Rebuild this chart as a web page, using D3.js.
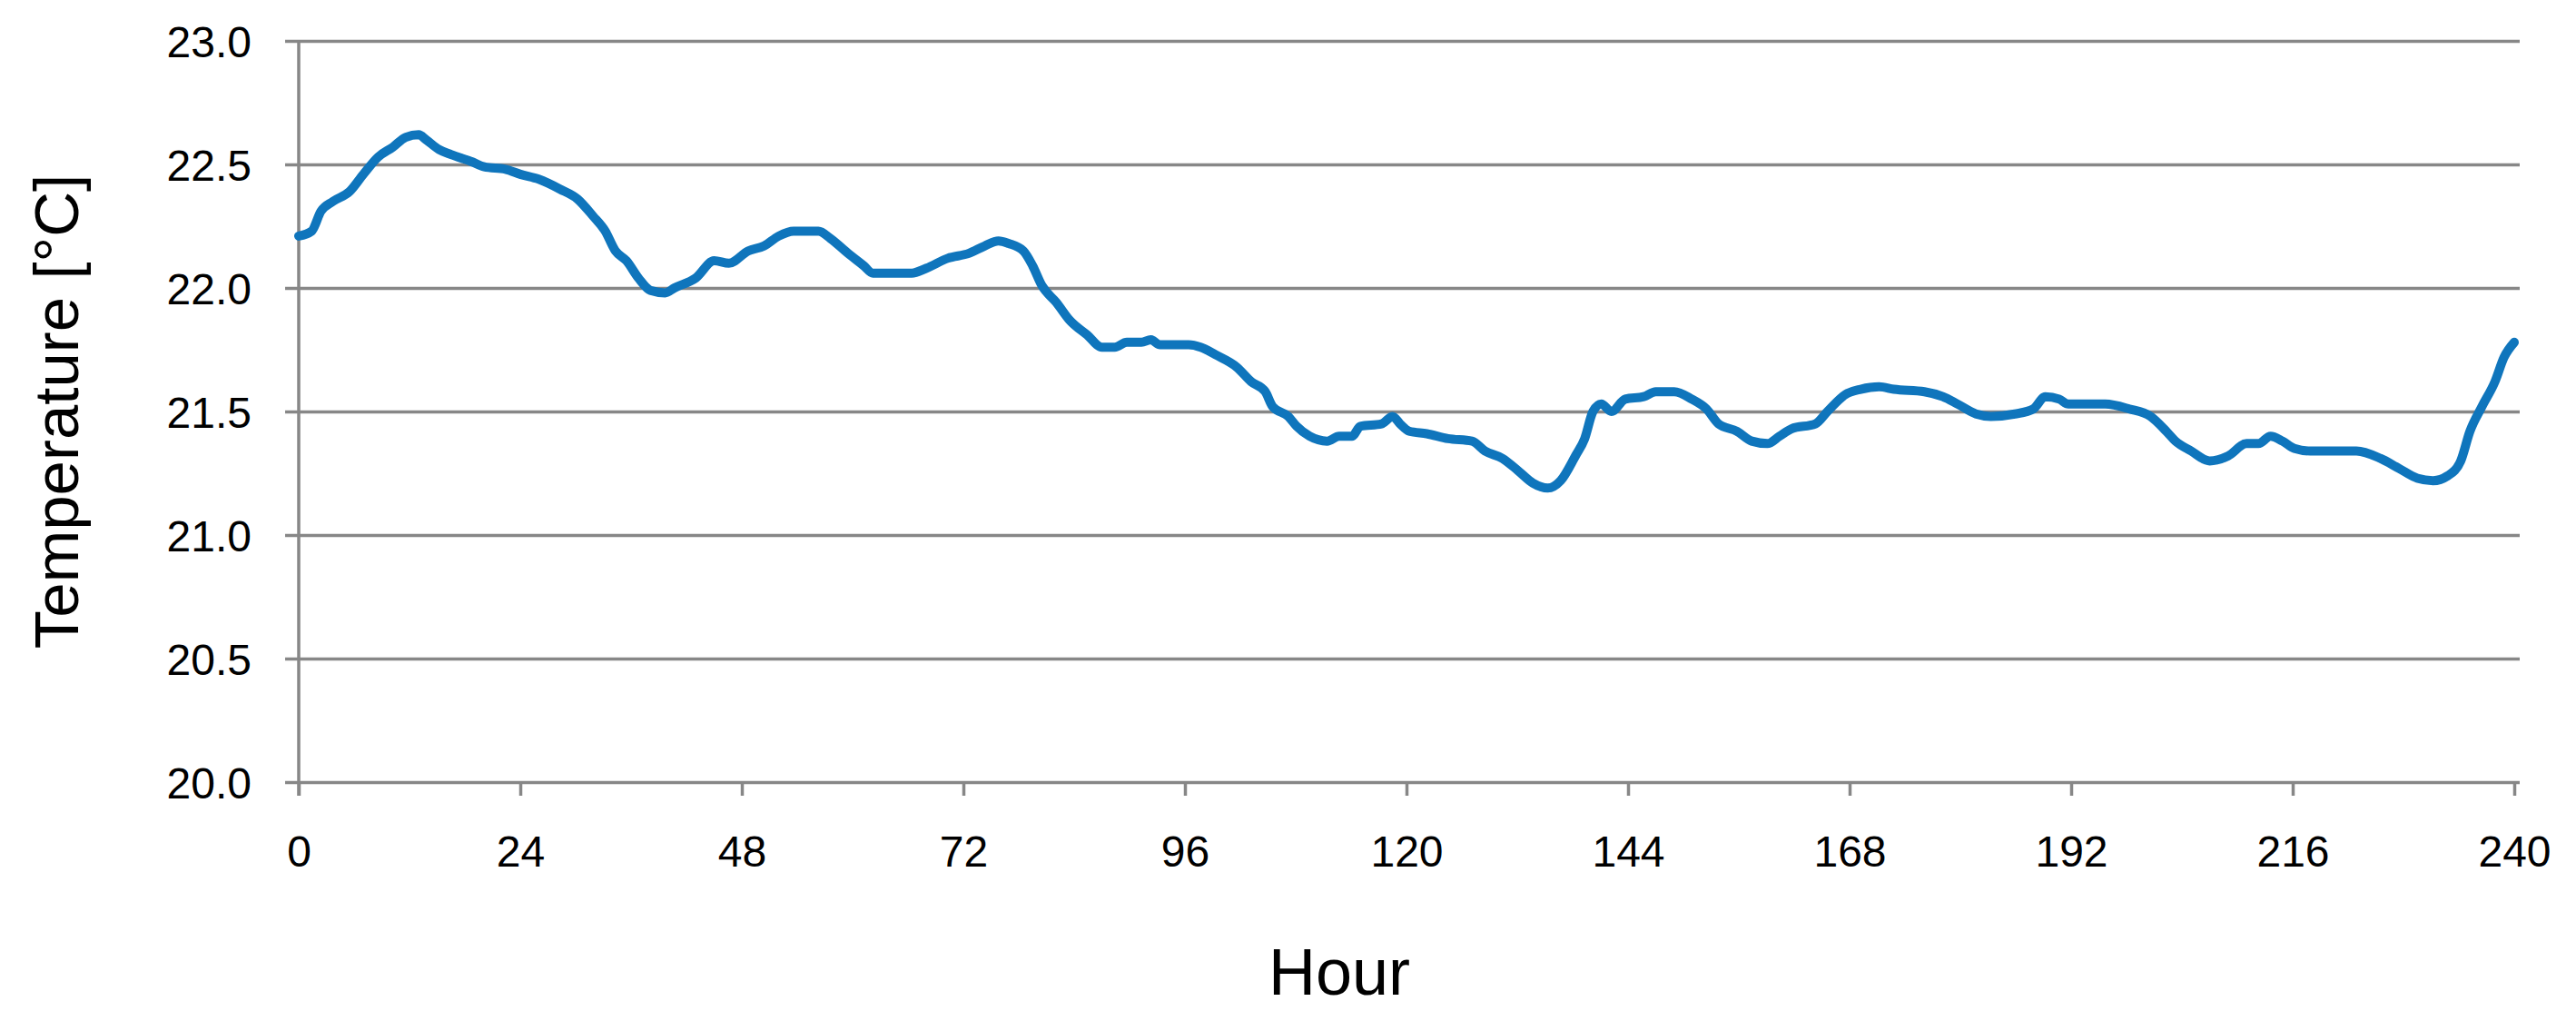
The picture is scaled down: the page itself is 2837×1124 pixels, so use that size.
<!DOCTYPE html>
<html>
<head>
<meta charset="utf-8">
<script src="https://cdn.jsdelivr.net/npm/d3@7"></script>
<style>
  body { margin: 0; background: #fff; }
  text { font-family: Arial, "Liberation Sans", sans-serif; fill: #000; }
</style>
</head>
<body>
<div id="chart"></div>
<script>
// hourly temperature readings
var hours = [0, 1.4, 2.4, 3.7, 5.5, 7.0, 8.6, 10.2, 11.6, 13.0, 13.8, 15.2, 16.5, 18.8, 20.1, 22.4,
    24.0, 26.0, 28.3, 30.2, 31.9, 33.2, 34.3, 35.5, 36.8, 38.1, 39.7, 40.7, 43.0, 45.0, 46.6,
    48.7, 50.4, 52.0, 53.6, 56.3, 57.6, 59.5, 61.2, 62.2, 66.4, 68.0, 70.3, 72.6, 74.3, 75.8,
    76.9, 78.5, 79.5, 80.5, 82.1, 83.5, 85.4, 87.0, 88.4, 89.7, 91.3, 92.3, 93.3, 96.4, 97.7,
    99.3, 101.6, 103.2, 104.7, 105.5, 107.2, 108.1, 109.5, 111.4, 112.7, 114.1, 115.0, 117.3,
    118.5, 119.3, 120.3, 122.2, 124.5, 127.1, 128.5, 130.4, 132.1, 133.7, 135.3, 136.7, 138.3,
    139.3, 140.2, 141.1, 142.2, 143.7, 145.7, 147.0, 149.0, 150.9, 152.5, 153.8, 155.8, 157.4,
    159.1, 160.4, 161.7, 164.3, 165.6, 167.6, 169.2, 171.2, 172.8, 176.1, 178.1, 179.7, 181.7,
    183.3, 185.9, 187.9, 189.2, 190.7, 191.7, 195.7, 198.3, 200.6, 202.3, 203.3, 205.0, 207.0,
    209.0, 211.0, 212.3, 213.6, 214.9, 216.2, 217.9, 222.9, 225.5, 227.5, 229.5, 231.2, 232.8,
    234.2, 235.2, 236.5, 237.9, 238.9, 240];

var temps = [22.21, 22.23, 22.31, 22.35, 22.39, 22.46, 22.53, 22.57, 22.61, 22.62, 22.60, 22.56, 22.54, 22.51, 22.49, 22.48,
    22.46, 22.44, 22.40, 22.36, 22.29, 22.23, 22.15, 22.11, 22.04, 21.99, 21.98, 22.00, 22.04, 22.11, 22.10,
    22.15, 22.17, 22.21, 22.23, 22.23, 22.20, 22.14, 22.09, 22.06, 22.06, 22.08, 22.12, 22.14, 22.17, 22.19,
    22.18, 22.15, 22.09, 22.01, 21.94, 21.87, 21.81, 21.76, 21.76, 21.78, 21.78, 21.79, 21.77, 21.77, 21.76,
    21.73, 21.68, 21.62, 21.58, 21.52, 21.48, 21.44, 21.40, 21.38, 21.40, 21.40, 21.44, 21.45,
    21.48, 21.45, 21.42, 21.41, 21.39, 21.38, 21.34, 21.31, 21.26, 21.21, 21.19, 21.22, 21.32,
    21.39, 21.50, 21.53, 21.50, 21.55, 21.56, 21.58, 21.58, 21.55, 21.51, 21.45, 21.42, 21.38,
    21.37, 21.40, 21.43, 21.45, 21.50, 21.57, 21.59, 21.60, 21.59, 21.58, 21.56, 21.53, 21.49,
    21.48, 21.49, 21.51, 21.56, 21.55, 21.53, 21.53, 21.51, 21.48, 21.42, 21.38, 21.34, 21.30,
    21.32, 21.37, 21.37, 21.40, 21.38, 21.35, 21.34, 21.34, 21.31, 21.27, 21.23, 21.22, 21.24,
    21.30, 21.42, 21.52, 21.62, 21.72, 21.78];

var xTicks = [0, 24, 48, 72, 96, 120, 144, 168, 192, 216, 240];
var yTicks = [20.0, 20.5, 21.0, 21.5, 22.0, 22.5, 23.0];

var w = 2837;
var h = 1124;
var plotLeft = 329, plotRight = 2769, plotTop = 45, plotBottom = 861;
var gridColor = '#878787';

var svg = d3.select('#chart')
    .append('svg')
    .attr('width', w)
    .attr('height', h);

var xScale = d3.scaleLinear().domain([0, 240]).range([plotLeft, plotRight]);
var yScale = d3.scaleLinear().domain([20, 23]).range([plotBottom, plotTop]);

// horizontal gridlines with the little ticks sticking out left
var yAxis = d3.axisLeft(yScale)
    .tickValues(yTicks)
    .tickSize(-(plotRight - plotLeft + 6))
    .tickFormat(d3.format('.1f'));

var gy = svg.append('g')
    .attr('transform', 'translate(' + plotLeft + ',0)')
    .call(yAxis);
gy.select('.domain').remove();
gy.selectAll('.tick line')
    .attr('x1', -15)
    .attr('stroke', gridColor)
    .attr('stroke-width', 3.5);
gy.selectAll('.tick text')
    .attr('x', -52)
    .attr('font-size', 48)
    .attr('font-family', 'Arial, "Liberation Sans", sans-serif')
    .attr('fill', '#000')
    .attr('dy', '0.36em');

var xAxis = d3.axisBottom(xScale)
    .tickValues(xTicks)
    .tickSize(15)
    .tickPadding(44);

var gx = svg.append('g')
    .attr('transform', 'translate(0,' + plotBottom + ')')
    .call(xAxis);
gx.select('.domain').remove();
gx.selectAll('.tick line')
    .attr('stroke', gridColor)
    .attr('stroke-width', 3.5);
gx.selectAll('.tick text')
    .attr('font-size', 48)
    .attr('font-family', 'Arial, "Liberation Sans", sans-serif')
    .attr('fill', '#000')
    .attr('dy', '0.71em');

// vertical axis line
svg.append('line')
    .attr('x1', plotLeft)
    .attr('x2', plotLeft)
    .attr('y1', plotTop)
    .attr('y2', plotBottom + 15)
    .attr('stroke', gridColor)
    .attr('stroke-width', 3.5);

var line = d3.line()
    .x(function(d, i) { return xScale(hours[i]); })
    .y(function(d) { return yScale(d); })
    .curve(d3.curveMonotoneX);

svg.append('path')
    .datum(temps)
    .attr('d', line)
    .attr('fill', 'none')
    .attr('stroke', '#0f75bc')
    .attr('stroke-width', 10)
    .attr('stroke-linejoin', 'round')
    .attr('stroke-linecap', 'round');

svg.append('text')
    .attr('text-anchor', 'middle')
    .attr('font-size', 72)
    .attr('x', 1475)
    .attr('y', 1095)
    .text('Hour');

svg.append('text')
    .attr('text-anchor', 'middle')
    .attr('font-size', 69)
    .attr('transform', 'translate(86,453) rotate(-90)')
    .text('Temperature [°C]');
</script>
</body>
</html>
